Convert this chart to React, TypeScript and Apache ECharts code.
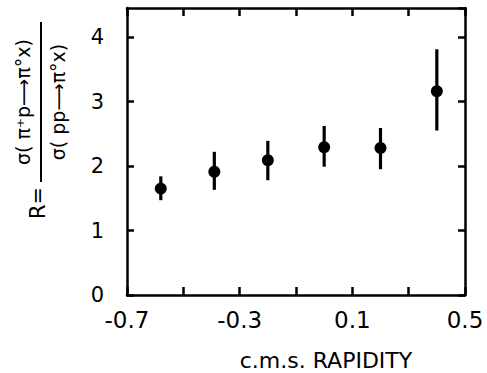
import React, { useEffect, useRef } from "react";
import * as echarts from "echarts";

const rapidity = [-0.58, -0.39, -0.2, 0.0, 0.2, 0.4];
const ratio = [1.65, 1.91, 2.09, 2.29, 2.28, 3.16];
const errLow = [1.47, 1.63, 1.78, 1.99, 1.95, 2.55];
const errHigh = [1.84, 2.22, 2.39, 2.62, 2.59, 3.81];
const xLabelTicks = [-0.7, -0.3, 0.1, 0.5];
const yTicks = [0, 1, 2, 3, 4];

const FONT = "DejaVu Sans";

export default function App() {
  const ref = useRef<HTMLDivElement>(null);
  useEffect(() => {
    if (!ref.current) return;
    const chart = echarts.init(ref.current, null, { renderer: "svg" });
    const points = rapidity.map((x, i) => [x, ratio[i]]);
    const bars = rapidity.map((x, i) => [x, errLow[i], errHigh[i]]);
    const lineStyle = { color: "#000", width: 2.5 };
    const xFmt = (v: number) => {
      const k = Math.round(v * 10) / 10;
      if (!xLabelTicks.some((t) => Math.abs(t - k) < 1e-6)) return "";
      return k.toFixed(1);
    };
    const baseX = {
      type: "value",
      min: -0.7,
      max: 0.5,
      interval: 0.2,
      splitLine: { show: false },
      axisLine: { show: true, onZero: false, lineStyle },
      axisTick: { show: true, inside: true, length: 8, lineStyle: { color: "#000", width: 2.5 } },
    };
    const baseY = {
      type: "value",
      min: 0,
      max: 4.45,
      interval: 1,
      splitLine: { show: false },
      axisLine: { show: true, onZero: false, lineStyle },
      axisTick: { show: true, inside: true, length: 7, lineStyle: { color: "#000", width: 2.5 } },
    };
    chart.setOption({
      animation: false,
      backgroundColor: "#fff",
      grid: { left: 127, right: 22, top: 8, bottom: 78 },
      xAxis: [
        {
          ...baseX,
          position: "bottom",
          axisLabel: {
            show: true,
            formatter: xFmt,
            color: "#000",
            fontSize: 23,
            fontFamily: FONT,
            margin: 13,
            showMinLabel: true,
            showMaxLabel: true,
          },
        },
        { ...baseX, position: "top", axisLabel: { show: false } },
      ],
      yAxis: [
        {
          ...baseY,
          position: "left",
          axisLabel: {
            show: true,
            color: "#000",
            fontSize: 21,
            fontFamily: FONT,
            margin: 23,
            showMaxLabel: false,
            formatter: (v: number) => (yTicks.includes(Math.round(v * 100) / 100) ? String(v) : ""),
          },
        },
        { ...baseY, position: "right", axisLabel: { show: false } },
      ],
      series: [
        {
          type: "custom",
          xAxisIndex: 0,
          yAxisIndex: 0,
          data: bars,
          renderItem: (params: any, api: any) => {
            const x = api.value(0);
            const lo = api.coord([x, api.value(1)]);
            const hi = api.coord([x, api.value(2)]);
            return {
              type: "line",
              shape: { x1: lo[0], y1: lo[1], x2: hi[0], y2: hi[1] },
              style: { stroke: "#000", lineWidth: 3.2 },
            };
          },
          silent: true,
        },
        {
          type: "scatter",
          xAxisIndex: 0,
          yAxisIndex: 0,
          data: points,
          symbol: "circle",
          symbolSize: 12,
          itemStyle: { color: "#000", opacity: 1 },
          silent: true,
        },
      ],
      graphic: [
        {
          type: "text",
          x: 23,
          y: 102,
          rotation: Math.PI / 2,
          style: {
            text: "σ( π⁺p⟶π°x)",
            fontSize: 19,
            fontFamily: FONT,
            fill: "#000",
            align: "center",
            verticalAlign: "middle",
          },
        },
        {
          type: "line",
          shape: { x1: 41, y1: 22, x2: 41, y2: 182 },
          style: { stroke: "#000", lineWidth: 2 },
        },
        {
          type: "text",
          x: 58,
          y: 102,
          rotation: Math.PI / 2,
          style: {
            text: "σ( pp⟶π°x)",
            fontSize: 19,
            fontFamily: FONT,
            fill: "#000",
            align: "center",
            verticalAlign: "middle",
          },
        },
        {
          type: "text",
          x: 38,
          y: 203,
          rotation: Math.PI / 2,
          style: {
            text: "R=",
            fontSize: 21,
            fontFamily: FONT,
            fill: "#000",
            align: "center",
            verticalAlign: "middle",
          },
        },
        {
          type: "text",
          x: 326,
          y: 360,
          style: {
            text: "c.m.s. RAPIDITY",
            fontSize: 22,
            fontFamily: FONT,
            fill: "#000",
            align: "center",
            verticalAlign: "middle",
          },
        },
      ],
    });
    return () => chart.dispose();
  }, []);
  return (
    <div style={{ position: "fixed", left: 0, top: 0, width: 487, height: 373, background: "#fff" }}>
      <div ref={ref} style={{ width: 487, height: 373 }} />
    </div>
  );
}
